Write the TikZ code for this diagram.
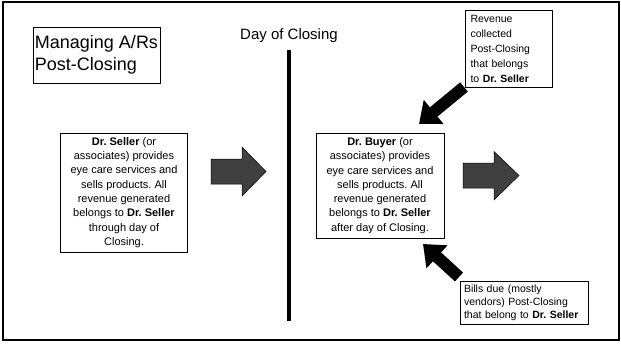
\documentclass[tikz,border=0pt]{standalone}
\usepackage{fontspec}
\setmainfont{Liberation Sans}
\usetikzlibrary{arrows.meta,calc}

\begin{document}
\frenchspacing
\begin{tikzpicture}[x=1pt,y=-1pt]
\tikzset{
  frame/.style={draw=black, line width=2pt},
  textbox/.style={draw=black, line width=0.8pt, inner sep=0pt, fill=white},
  bodytext/.style={font=\fontsize{11}{14.3}\selectfont, align=center},
  notetext/.style={font=\fontsize{10.5}{15}\selectfont, align=left},
  bigarrow/.style={fill=black!75, draw=black, line width=0.5pt},
  diagarrow/.style={line width=12pt, -{Triangle[width=30pt,length=19pt]}},
}
\useasboundingbox (0,0) rectangle (621,353);

% outer frame
\draw[frame] (2.5,2.5) rectangle (618.5,339.5);

% title
\node[textbox, minimum width=127pt, minimum height=56pt,
      align=left, font=\fontsize{18}{22}\selectfont] (title) at (96.5,55)
  {Managing A/Rs\\Post-Closing};

% closing day marker
\node[font=\fontsize{15}{18}\selectfont] (doc) at (289,36) {Day of Closing};
\coordinate (linetop) at (289,50);
\coordinate (linebot) at (289,321);
\draw[line width=3.2pt] (linetop) -- (linebot);

% seller period
\node[textbox, minimum width=127pt, minimum height=119pt, bodytext]
  (seller) at (124,192.5)
  {\textbf{Dr. Seller} (or\\associates) provides\\eye care services and\\sells products. All\\revenue generated\\belongs to \textbf{Dr. Seller}\\through day of\\Closing.};

% buyer period
\node[textbox, minimum width=128pt, minimum height=105pt, bodytext]
  (buyer) at (380,185.5)
  {\textbf{Dr. Buyer} (or\\associates) provides\\eye care services and\\sells products. All\\revenue generated\\belongs to \textbf{Dr. Seller}\\after day of Closing.};

% revenue note
\node[textbox, minimum width=87pt, minimum height=77pt, text width=76pt, notetext]
  (revenue) at (508.5,48.5)
  {Revenue\\collected\\Post-Closing\\that belongs\\to \textbf{Dr. Seller}};

% bills note
\node[textbox, minimum width=128pt, minimum height=43pt, text width=120pt,
      font=\fontsize{10.5}{13}\selectfont, align=left]
  (bills) at (524,302.5)
  {Bills due (mostly\\vendors) Post-Closing\\that belong to \textbf{Dr. Seller}};

% block arrows
\draw[bigarrow] (211,159) -- (242,159) -- (242,147) -- (266,171.5)
  -- (242,196) -- (242,184) -- (211,184) -- cycle;
\draw[bigarrow] (463,163) -- (494,163) -- (494,151.5) -- (519,175.5)
  -- (494,200) -- (494,188) -- (463,188) -- cycle;

% diagonal arrows
\coordinate (revtail) at (464,87);
\coordinate (revtip) at (419,124);
\draw[diagarrow] (revtail) -- (revtip);
\coordinate (billtail) at (459,277);
\coordinate (billtip) at (423,244);
\draw[diagarrow] (billtail) -- (billtip);
\end{tikzpicture}
\end{document}
